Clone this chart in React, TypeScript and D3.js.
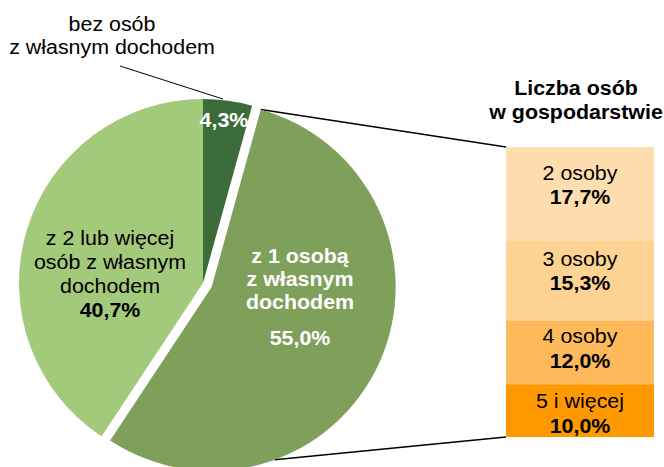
import React from "react";
import * as d3 from "d3";

const pieCategories = ["bez osób z własnym dochodem", "z 1 osobą z własnym dochodem", "z 2 lub więcej osób z własnym dochodem"];
const pieValues = [4.3, 55.0, 40.7];
const pieValueLabels = ["4,3%", "55,0%", "40,7%"];
const barCategories = ["2 osoby", "3 osoby", "4 osoby", "5 i więcej"];
const barValues = [17.7, 15.3, 12.0, 10.0];
const barValueLabels = ["17,7%", "15,3%", "12,0%", "10,0%"];
const barTitle = ["Liczba osób", "w gospodarstwie"];

const pieColors = ["#3C6B3A", "#7FA05B", "#A3C97B"];
const barColors = ["#FEDEAE", "#FED293", "#FDB95A", "#FF9900"];
const FONT = "'Liberation Sans', Arial, sans-serif";
const SX = 1.07;

function T({ x, y, children, bold, fill = "#000" }: { x: number; y: number; children: React.ReactNode; bold?: boolean; fill?: string }) {
  return (
    <text
      transform={`translate(${x},${y}) scale(${SX},1)`}
      fontSize={20}
      fontWeight={bold ? "bold" : "normal"}
      textAnchor="middle"
      fill={fill}
    >
      {children}
    </text>
  );
}

export default function App() {
  const W = 664, H = 467;
  const cx = 203, cy = 283, r = 184;
  const explode = 9.5;
  const pie = d3.pie<number>().sort(null).value((d) => d);
  const arcs = pie(pieValues);
  const arc = d3.arc<d3.PieArcDatum<number>>().innerRadius(0).outerRadius(r);

  const offsets = arcs.map((a, i) => {
    if (i !== 1) return [0, 0];
    const mid = (a.startAngle + a.endAngle) / 2;
    return [Math.sin(mid) * explode, -Math.cos(mid) * explode];
  });

  const barX0 = 506, barX1 = 654, barTop = 147, barBottom = 437;
  const total = d3.sum(barValues);
  const y = d3.scaleLinear().domain([0, total]).range([barTop, barBottom]);
  const cum = barValues.map((_, i) => d3.sum(barValues.slice(0, i)));
  const barLabelDy = [[-14, 10], [-15, 9], [-10, 15], [-3, 22]];

  const ex = cx + offsets[1][0], ey = cy + offsets[1][1];
  const a1 = arcs[1].startAngle;
  const p1 = [ex + Math.sin(a1) * r, ey - Math.cos(a1) * r];
  const a2 = (160 * Math.PI) / 180;
  const p2 = [ex + Math.sin(a2) * r, ey - Math.cos(a2) * r];

  return (
    <svg width={W} height={H} style={{ position: "absolute", left: 0, top: 0 }} fontFamily={FONT}>
      <rect width={W} height={H} fill="#fff" />
      <line x1={p1[0]} y1={p1[1]} x2={barX0} y2={barTop} stroke="#000" strokeWidth={1.5} />
      <line x1={p2[0]} y1={p2[1]} x2={barX0} y2={barBottom} stroke="#000" strokeWidth={1.5} />
      {arcs.map((a, i) => (
        <path
          key={i}
          d={arc(a) || ""}
          transform={`translate(${cx + offsets[i][0]},${cy + offsets[i][1]})`}
          fill={pieColors[i]}
        />
      ))}
      <line x1={120} y1={66} x2={223} y2={99} stroke="#000" strokeWidth={1} />
      <T x={112} y={31}>bez osób</T>
      <T x={112} y={54}>z własnym dochodem</T>
      <T x={224} y={127} bold fill="#fff">{pieValueLabels[0]}</T>
      <T x={300} y={263} bold fill="#fff">z 1 osobą</T>
      <T x={300} y={286} bold fill="#fff">z własnym</T>
      <T x={300} y={309} bold fill="#fff">dochodem</T>
      <T x={300} y={345} bold fill="#fff">{pieValueLabels[1]}</T>
      <T x={110} y={245}>z 2 lub więcej</T>
      <T x={110} y={269}>osób z własnym</T>
      <T x={110} y={293}>dochodem</T>
      <T x={110} y={317} bold>{pieValueLabels[2]}</T>
      {barValues.map((v, i) => (
        <rect key={i} x={barX0} width={barX1 - barX0} y={y(cum[i])} height={y(cum[i] + v) - y(cum[i])} fill={barColors[i]} />
      ))}
      {barValues.map((v, i) => {
        const c = (y(cum[i]) + y(cum[i] + v)) / 2;
        const mx = (barX0 + barX1) / 2;
        return (
          <g key={i}>
            <T x={mx} y={c + barLabelDy[i][0]}>{barCategories[i]}</T>
            <T x={mx} y={c + barLabelDy[i][1]} bold>{barValueLabels[i]}</T>
          </g>
        );
      })}
      <T x={576} y={95} bold>{barTitle[0]}</T>
      <T x={576} y={119} bold>{barTitle[1]}</T>
    </svg>
  );
}
